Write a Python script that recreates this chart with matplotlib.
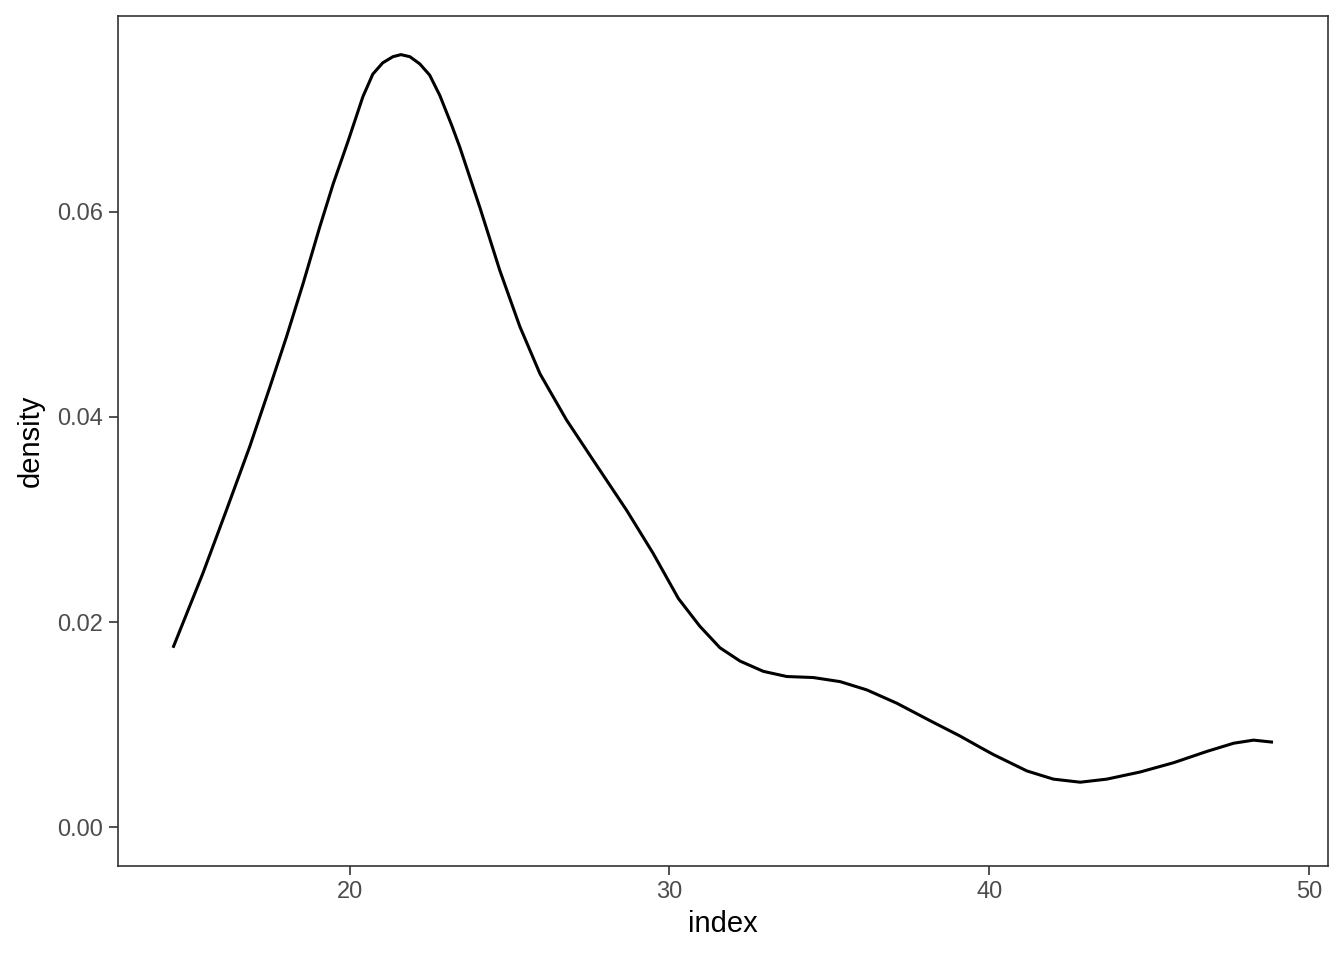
import matplotlib
matplotlib.use("Agg")
import matplotlib.pyplot as plt

# density curve
index = [14.47, 15.41, 16.14, 16.87, 17.50, 18.02, 18.54, 19.06, 19.48, 19.95,
         20.41, 20.72, 21.03, 21.35, 21.60, 21.88, 22.19, 22.50, 22.82, 23.19,
         23.44, 24.07, 24.69, 25.32, 25.95, 26.78, 27.61, 28.66, 29.49, 30.28,
         30.95, 31.58, 32.21, 32.94, 33.67, 34.50, 35.34, 36.17, 37.11, 38.15,
         39.09, 39.72, 40.13, 41.18, 42.01, 42.85, 43.68, 44.73, 45.77, 46.81,
         47.65, 48.27, 48.88]
density = [0.0175, 0.0248, 0.0309, 0.0371, 0.0429, 0.0478, 0.0530, 0.0585, 0.0627, 0.0669,
           0.0712, 0.0734, 0.0745, 0.0751, 0.0753, 0.0751, 0.0744, 0.0733, 0.0713, 0.0684,
           0.0663, 0.0604, 0.0543, 0.0488, 0.0442, 0.0397, 0.0358, 0.0309, 0.0267, 0.0223,
           0.0196, 0.0175, 0.0162, 0.0152, 0.0147, 0.0146, 0.0142, 0.0134, 0.0121, 0.0104,
           0.0089, 0.0078, 0.0071, 0.0055, 0.0047, 0.0044, 0.0047, 0.0054, 0.0063, 0.0074,
           0.0082, 0.0085, 0.0083]

x_ticks = [20, 30, 40, 50]
y_ticks = [0.00, 0.02, 0.04, 0.06]

plt.rcParams['font.family'] = ['Liberation Sans', 'DejaVu Sans']

fig = plt.figure(figsize=(13.44, 9.6), dpi=100)
ax = fig.add_axes([118 / 1344, 1 - 866 / 960, (1328 - 118) / 1344, (866 - 16) / 960])

ax.plot(index, density, color='black', linewidth=2.2,
        solid_joinstyle='round', solid_capstyle='butt')

# ggplot-style 5% expansion, y range includes zero
xr = max(index) - min(index)
ax.set_xlim(min(index) - 0.05 * xr, max(index) + 0.05 * xr)
yr = max(density)
ax.set_ylim(-0.05 * yr, yr * 1.05)

ax.set_xticks(x_ticks)
ax.set_yticks(y_ticks)
ax.set_yticklabels([f"{v:.2f}" for v in y_ticks])

for s in ax.spines.values():
    s.set_color('#333333')
    s.set_linewidth(1.2)

ax.tick_params(axis='both', direction='out', length=6.5, width=1.2, color='#333333',
               labelcolor='#4D4D4D', labelsize=17, pad=4)

ax.set_xlabel('index', fontsize=21, labelpad=5)
ax.set_ylabel('density', fontsize=21, labelpad=9)

fig.savefig('out.png', dpi=100)
plt.close(fig)
